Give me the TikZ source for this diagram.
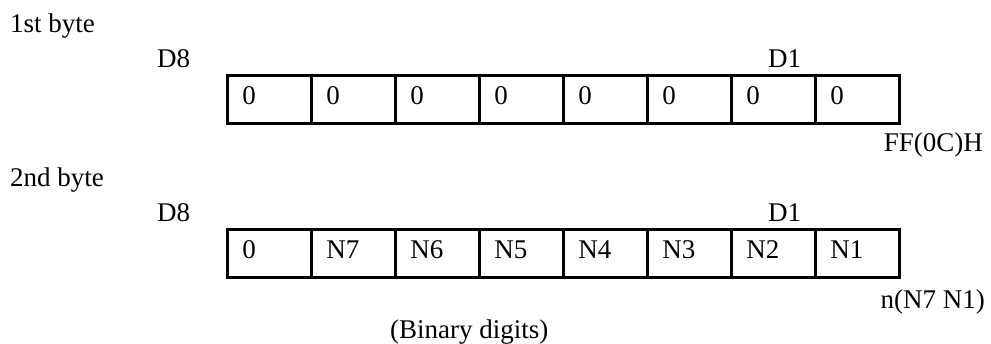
\documentclass[tikz,border=0pt]{standalone}
\usepackage{fontspec}
\setmainfont{Liberation Serif}
\begin{document}
\begin{tikzpicture}[x=1pt,y=-1pt,
  lbl/.style={inner sep=0pt, font=\fontsize{27}{31}\selectfont},
  cell/.style={draw, line width=2.6pt, minimum width=84pt, minimum height=48pt,
    text width=54pt, align=left, inner xsep=15pt, inner ysep=0pt,
    text height=18pt, text depth=8pt, anchor=north west,
    font=\fontsize{27}{31}\selectfont}]
\useasboundingbox (0,0) rectangle (991,344);
% first byte
\node[lbl, anchor=base west] (t1) at (10,33) {1st byte};
\node[lbl, anchor=base west] (a8) at (157,68) {D8};
\node[lbl, anchor=base west] (a1) at (768,68) {D1};
\foreach \v [count=\i from 0] in {0,0,0,0,0,0,0,0}
  \node[cell] (r1c\i) at (226+84*\i,74) {\v};
\node[lbl, anchor=base east] (h1) at (983,152) {FF(0C)H};
% second byte
\node[lbl, anchor=base west] (t2) at (10,187) {2nd byte};
\node[lbl, anchor=base west] (b8) at (157,222) {D8};
\node[lbl, anchor=base west] (b1) at (768,222) {D1};
\foreach \v [count=\i from 0] in {0,N7,N6,N5,N4,N3,N2,N1}
  \node[cell] (r2c\i) at (226+84*\i,228) {\v};
\node[lbl, anchor=base east] (h2) at (985,309) {n(N7 N1)};
\node[lbl, anchor=base west] (bd) at (390,339) {(Binary digits)};
\end{tikzpicture}
\end{document}
